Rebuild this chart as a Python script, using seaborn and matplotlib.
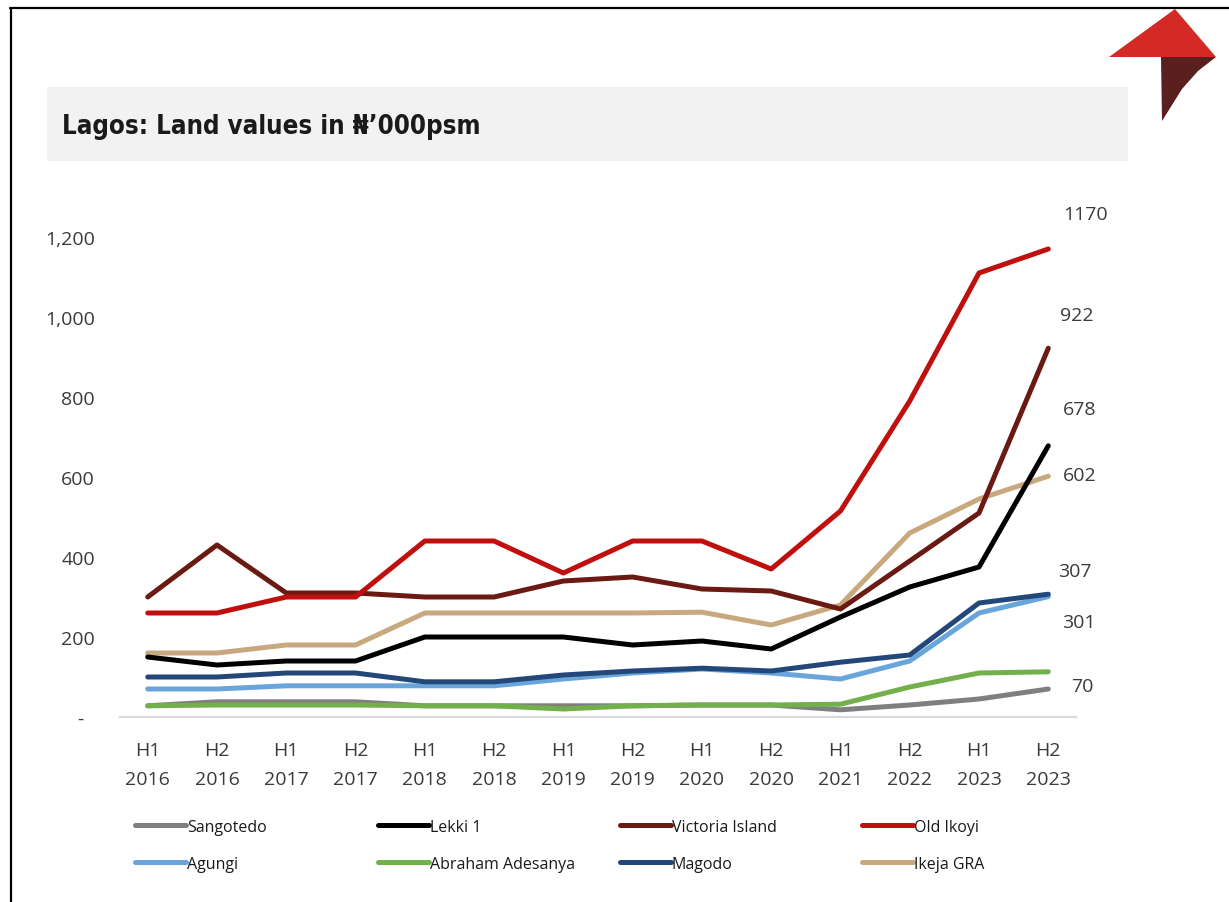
import matplotlib
matplotlib.use("Agg")
import matplotlib.pyplot as plt
from matplotlib.lines import Line2D
from matplotlib.patches import Rectangle, Polygon
import pandas as pd
import seaborn as sns

# data (N'000 per sqm)
periods = ["H1\n2016", "H2\n2016", "H1\n2017", "H2\n2017", "H1\n2018", "H2\n2018", "H1\n2019",
           "H2\n2019", "H1\n2020", "H2\n2020", "H1\n2021", "H2\n2022", "H1\n2023", "H2\n2023"]

sangotedo = [28, 38, 38, 38, 28, 28, 28, 28, 30, 30, 18, 30, 45, 70]
lekki_1 = [150, 130, 140, 140, 200, 200, 200, 180, 190, 170, 250, 325, 375, 678]
victoria_island = [300, 430, 310, 310, 300, 300, 340, 350, 320, 315, 270, 390, 510, 922]
old_ikoyi = [260, 260, 300, 300, 440, 440, 360, 440, 440, 370, 515, 790, 1110, 1170]
agungi = [70, 70, 78, 78, 78, 78, 95, 110, 120, 110, 95, 140, 260, 301]
abraham_adesanya = [28, 30, 30, 30, 28, 28, 20, 28, 30, 30, 32, 75, 110, 113]
magodo = [100, 100, 110, 110, 88, 88, 105, 115, 122, 115, 137, 155, 285, 307]
ikeja_gra = [160, 160, 180, 180, 260, 260, 260, 260, 262, 230, 280, 460, 545, 602]

series = {
    "Sangotedo": sangotedo,
    "Lekki 1": lekki_1,
    "Victoria Island": victoria_island,
    "Old Ikoyi": old_ikoyi,
    "Agungi": agungi,
    "Abraham Adesanya": abraham_adesanya,
    "Magodo": magodo,
    "Ikeja GRA": ikeja_gra,
}

colors = {
    "Sangotedo": "#7f7f7f",
    "Lekki 1": "#000000",
    "Victoria Island": "#6a1a12",
    "Old Ikoyi": "#c0100e",
    "Agungi": "#69a5da",
    "Abraham Adesanya": "#72b04c",
    "Magodo": "#24477a",
    "Ikeja GRA": "#c8a97f",
}

# drawing order (later = on top)
draw_order = ["Ikeja GRA", "Agungi", "Magodo", "Sangotedo", "Abraham Adesanya",
              "Lekki 1", "Victoria Island", "Old Ikoyi"]

# end labels: value and offset in pixels from the last point
end_labels = [(1170, 37, 35), (922, 29, 33), (678, 31, 37), (602, 31, 1),
              (307, 27, 23), (301, 31, -25), (70, 34, 3)]

rows = []
for name, vals in series.items():
    for i, v in enumerate(vals):
        rows.append({"area": name, "idx": i, "value": v})
df = pd.DataFrame(rows)

W, H = 1229, 903
sns.set_theme(style="white")
plt.rcParams["font.family"] = ["Open Sans", "DejaVu Sans"]
text_col = "#3a3a3a"

fig = plt.figure(figsize=(W / 100, H / 100), dpi=100)
fig.patch.set_facecolor("white")

def fx(x):
    return x / W

def fy(y):
    return 1 - y / H

# frame lines on top and left
fig.add_artist(Line2D([fx(10), 1], [fy(9), fy(9)], color="black", lw=1.6))
fig.add_artist(Line2D([fx(11), fx(11)], [fy(9), 0], color="black", lw=1.6))

# title bar
fig.add_artist(Rectangle((fx(47), fy(162)), fx(1128) - fx(47), fy(88) - fy(162),
                         facecolor="#f2f2f2", edgecolor="none"))
fig.text(fx(62), fy(127), "Lagos: Land values in \u20a6\u2019000psm", ha="left", va="center",
         fontsize=18.5, fontweight="bold", fontstretch="condensed", color="#1a1a1a",
         family=["DejaVu Sans"])

# logo
fig.add_artist(Polygon([(fx(1109), fy(58)), (fx(1175), fy(10)), (fx(1216), fy(58))],
                       closed=True, facecolor="#d42a25", edgecolor="none"))
fig.add_artist(Polygon([(fx(1161), fy(58)), (fx(1216), fy(58)), (fx(1198), fy(72)),
                        (fx(1182), fy(90)), (fx(1162), fy(122))],
                       closed=True, facecolor="#5a2020", edgecolor="none"))

ax = fig.add_axes([fx(120), fy(718), fx(1076) - fx(120), fy(198) - fy(718)])
sns.lineplot(data=df, x="idx", y="value", hue="area", hue_order=draw_order,
             palette=colors, linewidth=3.6, ax=ax, legend=False)

ax.set_xlim(-0.4, 13.4)
ax.set_ylim(0, 1300)
ax.set_xlabel("")
ax.set_ylabel("")
ax.set_xticks(range(len(periods)))
ax.set_xticklabels(periods)
ax.set_yticks([0, 200, 400, 600, 800, 1000, 1200])
ax.set_yticklabels(["-  ", "200", "400", "600", "800", "1,000", "1,200"])
ax.tick_params(axis="both", length=0, labelsize=14, labelcolor=text_col)
ax.tick_params(axis="y", pad=18)
ax.tick_params(axis="x", pad=17)
for lbl in ax.get_xticklabels():
    lbl.set_linespacing(1.8)
for s in ["top", "right", "left"]:
    ax.spines[s].set_visible(False)
ax.spines["bottom"].set_color("#d9d9d9")
ax.spines["bottom"].set_linewidth(1.6)
ax.grid(False)

last = len(periods) - 1
for val, dx, dy in end_labels:
    ax.annotate(str(val), xy=(last, val), xytext=(dx, dy), textcoords="offset pixels",
                ha="center", va="center", fontsize=14, color=text_col)

# legend, one block per column
line_by_name = dict(zip(draw_order, ax.get_lines()))
legend_cols = [(135, ["Sangotedo", "Agungi"]), (378, ["Lekki 1", "Abraham Adesanya"]),
               (620, ["Victoria Island", "Magodo"]), (862, ["Old Ikoyi", "Ikeja GRA"])]
for x0, names in legend_cols:
    fig.legend([line_by_name[n] for n in names], names, loc="upper left",
               bbox_to_anchor=(fx(x0), fy(820)), frameon=False, fontsize=11.5,
               handlelength=3.2, handletextpad=0.05, labelspacing=1.3,
               borderpad=0, borderaxespad=0, labelcolor="#1a1a1a")

fig.savefig("out.png", dpi=100)
